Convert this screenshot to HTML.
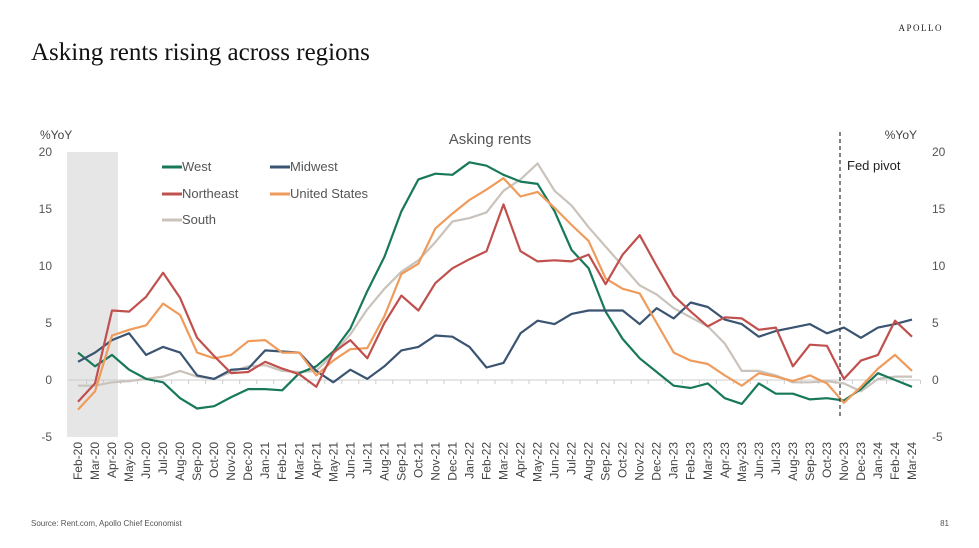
<!DOCTYPE html>
<html><head><meta charset="utf-8"><style>
body{margin:0;background:#fff;}
svg{display:block;}
</style></head><body>
<svg width="979" height="548" viewBox="0 0 979 548" xmlns="http://www.w3.org/2000/svg" font-family="Liberation Sans, sans-serif">
<text x="943" y="31" font-family="Liberation Serif, serif" font-size="9" letter-spacing="1.5" fill="#222" text-anchor="end">APOLLO</text>
<text x="31" y="60" font-family="Liberation Serif, serif" font-size="25" fill="#111">Asking rents rising across regions</text>
<rect x="67" y="152" width="51" height="285" fill="#e6e6e6"/>
<text x="40" y="139" font-size="12" fill="#444">%YoY</text>
<text x="917" y="139" font-size="12" fill="#444" text-anchor="end">%YoY</text>
<text x="490" y="144" font-size="15" fill="#555" text-anchor="middle">Asking rents</text>
<g id="axes"></g>
<g id="lines"></g>
<line x1="840" y1="132" x2="840" y2="418" stroke="#333" stroke-width="1.2" stroke-dasharray="4,3"/>
<text x="847" y="170" font-size="13" fill="#222">Fed pivot</text>
<g id="legend" font-size="13" fill="#555"></g>
<text x="31" y="526" font-size="8" fill="#555">Source: Rent.com, Apollo Chief Economist</text>
<text x="949" y="526" font-size="8" fill="#555" text-anchor="end">81</text>
</svg>
<script>
const months=["Feb-20","Mar-20","Apr-20","May-20","Jun-20","Jul-20","Aug-20","Sep-20","Oct-20","Nov-20","Dec-20","Jan-21","Feb-21","Mar-21","Apr-21","May-21","Jun-21","Jul-21","Aug-21","Sep-21","Oct-21","Nov-21","Dec-21","Jan-22","Feb-22","Mar-22","Apr-22","May-22","Jun-22","Jul-22","Aug-22","Sep-22","Oct-22","Nov-22","Dec-22","Jan-23","Feb-23","Mar-23","Apr-23","May-23","Jun-23","Jul-23","Aug-23","Sep-23","Oct-23","Nov-23","Dec-23","Jan-24","Feb-24","Mar-24"];
const yTicks=[-5,0,5,10,15,20];
const west=[2.4,1.2,2.2,0.9,0.1,-0.2,-1.6,-2.5,-2.3,-1.5,-0.8,-0.8,-0.9,0.6,1.2,2.5,4.5,7.8,10.8,14.8,17.6,18.1,18.0,19.1,18.8,18.0,17.4,17.2,14.8,11.4,9.8,6.0,3.6,1.9,0.7,-0.5,-0.7,-0.3,-1.6,-2.1,-0.3,-1.2,-1.2,-1.7,-1.6,-1.8,-0.8,0.6,0.0,-0.6];
const midwest=[1.6,2.4,3.5,4.1,2.2,2.9,2.4,0.4,0.1,0.9,1.0,2.6,2.5,2.4,0.8,-0.2,0.9,0.1,1.2,2.6,2.9,3.9,3.8,2.9,1.1,1.5,4.1,5.2,4.9,5.8,6.1,6.1,6.1,4.9,6.3,5.4,6.8,6.4,5.3,4.9,3.8,4.3,4.6,4.9,4.1,4.6,3.7,4.6,4.9,5.3];
const northeast=[-1.9,-0.3,6.1,6.0,7.3,9.4,7.2,3.7,2.1,0.6,0.7,1.6,1.0,0.5,-0.6,2.4,3.5,1.9,5.0,7.4,6.1,8.5,9.8,10.6,11.3,15.4,11.3,10.4,10.5,10.4,11.0,8.4,11.0,12.7,10.0,7.4,6.0,4.7,5.5,5.4,4.4,4.6,1.2,3.1,3.0,0.1,1.7,2.2,5.2,3.8];
const unitedStates=[-2.6,-1.0,3.9,4.4,4.8,6.7,5.7,2.4,1.9,2.2,3.4,3.5,2.4,2.4,0.4,1.7,2.7,2.8,5.6,9.3,10.2,13.3,14.6,15.8,16.7,17.7,16.1,16.5,15.1,13.6,12.2,8.9,8.0,7.6,5.0,2.4,1.7,1.4,0.4,-0.5,0.6,0.3,-0.1,0.4,-0.3,-2.0,-0.6,1.0,2.2,0.8];
const south=[-0.5,-0.5,-0.2,-0.1,0.1,0.3,0.8,0.3,0.1,0.7,1.2,1.3,0.8,0.7,0.8,2.3,4.0,6.2,8.0,9.5,10.5,12.1,13.9,14.2,14.7,16.6,17.6,19.0,16.6,15.3,13.4,11.7,10.0,8.3,7.5,6.3,5.5,4.7,3.2,0.8,0.8,0.4,-0.2,-0.2,-0.1,-0.3,-1.0,0.1,0.3,0.3];
const NS="http://www.w3.org/2000/svg";
const x=i=>78+i*(912-78)/(months.length-1);
const y=v=>380-v*11.4;
function mk(tag,attrs,parent){const e=document.createElementNS(NS,tag);for(const k in attrs)e.setAttribute(k,attrs[k]);parent.appendChild(e);return e;}
const ax=document.getElementById('axes');
const zl=mk('line',{x1:68,x2:920,y1:y(0),y2:y(0),stroke:'#ccc','stroke-width':1},ax);


months.forEach((m,i)=>{
  const tk=mk('line',{x1:x(i)+8.5,x2:x(i)+8.5,y1:y(0),y2:y(0)+4,stroke:'#ccc'},ax);
  
  
  const t=mk('text',{transform:`translate(${x(i)+4},442) rotate(-90)`,'text-anchor':'end','font-size':12,fill:'#444'},ax);
  t.textContent=m;
  
  
});
yTicks.forEach(v=>{
  const l=mk('text',{x:52,y:y(v)+4,'text-anchor':'end','font-size':12,fill:'#555'},ax);
  l.textContent=v;
  
  
  const r=mk('text',{x:932,y:y(v)+4,'font-size':12,fill:'#555'},ax);
  r.textContent=v;
  
  
});
const series=[["south",south,"#c9c3bc"],["west",west,"#17785a"],["midwest",midwest,"#3a5472"],["united-states",unitedStates,"#ef9b5c"],["northeast",northeast,"#c0504d"]];
const lg=document.getElementById('lines');
series.forEach(([n,d,c])=>{
  const p=mk('polyline',{points:d.map((v,i)=>x(i).toFixed(1)+','+y(v).toFixed(1)).join(' '),fill:'none',stroke:c,'stroke-width':2.2,'stroke-linejoin':'round'},lg);
  
  
});
const leg=[["West","#17785a",162,167],["Midwest","#3a5472",270,167],["Northeast","#c0504d",162,194],["United States","#ef9b5c",270,194],["South","#c9c3bc",162,220]];
const L=document.getElementById('legend');
leg.forEach(([n,c,lx,ly])=>{
  const g=mk('g',{},L);
  
  
  mk('line',{x1:lx,x2:lx+20,y1:ly,y2:ly,stroke:c,'stroke-width':3},g);
  const t=mk('text',{x:lx+20,y:ly+4,fill:'#555'},g);t.textContent=n;
});
</script>
</body></html>
